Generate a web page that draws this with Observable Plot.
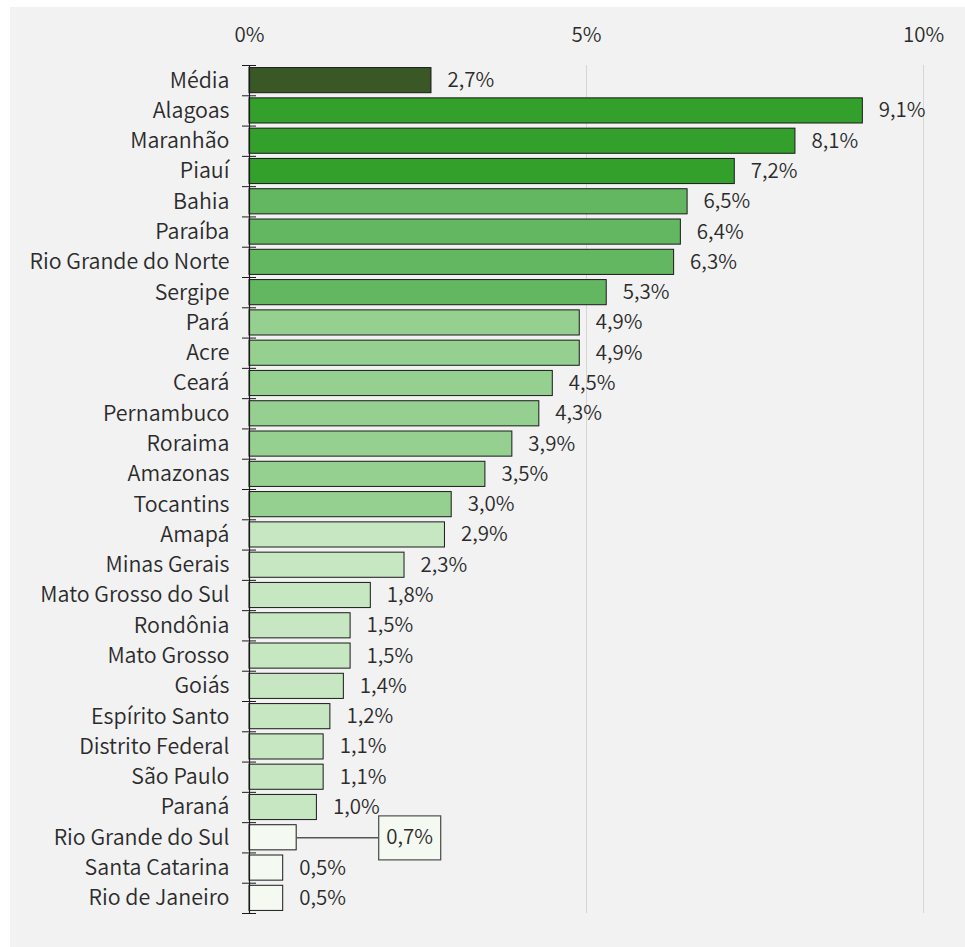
<!DOCTYPE html>
<html>
<head>
<meta charset="utf-8">
<script src="https://cdn.jsdelivr.net/npm/d3@7"></script>
<script src="https://cdn.jsdelivr.net/npm/@observablehq/plot@0.6"></script>
<style>
  html, body { margin: 0; padding: 0; background: #ffffff; }
  #panel { position: absolute; left: 10px; top: 7px; width: 955px; height: 940px; background: #f2f2f2; }
  #panel svg { background: transparent; font-family: "Noto Sans CJK JP", "Noto Sans", sans-serif; font-weight: 350; }
</style>
</head>
<body>
<div id="panel"></div>
<script>
const states = ["Média","Alagoas","Maranhão","Piauí","Bahia","Paraíba","Rio Grande do Norte","Sergipe","Pará","Acre","Ceará","Pernambuco","Roraima","Amazonas","Tocantins","Amapá","Minas Gerais","Mato Grosso do Sul","Rondônia","Mato Grosso","Goiás","Espírito Santo","Distrito Federal","São Paulo","Paraná","Rio Grande do Sul","Santa Catarina","Rio de Janeiro"];
const values = [2.7,9.1,8.1,7.2,6.5,6.4,6.3,5.3,4.9,4.9,4.5,4.3,3.9,3.5,3.0,2.9,2.3,1.8,1.5,1.5,1.4,1.2,1.1,1.1,1.0,0.7,0.5,0.5];
const groups = ["media","g1","g1","g1","g2","g2","g2","g2","g3","g3","g3","g3","g3","g3","g3","g4","g4","g4","g4","g4","g4","g4","g4","g4","g4","g5","g5","g5"];
const groupNames = ["media","g1","g2","g3","g4","g5"];
const groupColors = ["#3a5726","#33a02c","#63b760","#95d091","#c7e6c2","#f4f9f1"];
const xTicks = [0,5,10];
const highlighted = "Rio Grande do Sul";

const data = states.map((s, i) => ({state: s, value: values[i], group: groups[i], label: values[i].toFixed(1).replace(".", ",") + "%"}));

const W = 955, H = 940;
const mL = 239, mR = 42, mT = 58, mB = 34;
const step = (H - mT - mB) / states.length;
const pxPerUnit = (W - mL - mR) / 10;

const boxSymbol = { draw(ctx) { ctx.rect(-31, -22, 62, 44); } };

const chart = Plot.plot({
  width: W, height: H,
  marginLeft: mL, marginRight: mR, marginTop: mT, marginBottom: mB,
  style: { fontSize: "20px", color: "#2b2b2b", background: "transparent" },
  x: { domain: [0, 10], axis: null },
  y: { domain: states, padding: 0.17, paddingOuter: 0.085, round: false, axis: null },
  color: { domain: groupNames, range: groupColors },
  marks: [
    Plot.gridX(xTicks.filter(d => d > 0), { stroke: "#d6d6d6", strokeOpacity: 1, strokeWidth: 1 }),
    Plot.axisX(xTicks, { anchor: "top", label: null, tickSize: 0, tickPadding: 24, tickFormat: d => d + "%", fontSize: 20.5, fill: "#2b2b2b" }),
    Plot.axisY({ anchor: "left", label: null, tickSize: 0, tickPadding: 20, fontSize: 21.4, fill: "#2b2b2b" }),
    Plot.barX(data, { x: "value", y: "state", fill: "group", stroke: "#1a1a1a", strokeWidth: 1 }),
    Plot.ruleX([0], { stroke: "#1a1a1a", strokeWidth: 1.2 }),
    Plot.ruleY(states, { y: d => d, x1: -7 / pxPerUnit, x2: 7 / pxPerUnit, dy: -step / 2, stroke: "#1a1a1a", strokeWidth: 1 }),
    Plot.ruleY(states.slice(-1), { y: d => d, x1: -7 / pxPerUnit, x2: 7 / pxPerUnit, dy: step / 2, stroke: "#1a1a1a", strokeWidth: 1 }),
    Plot.text(data.filter(d => d.state !== highlighted), { x: "value", y: "state", text: "label", textAnchor: "start", dx: 16, fontSize: 20.5, fill: "#2b2b2b" }),
    Plot.ruleY(data.filter(d => d.state === highlighted), { y: "state", x1: "value", x2: d => d.value + 82 / pxPerUnit, stroke: "#555", strokeWidth: 1.5 }),
    Plot.dot(data.filter(d => d.state === highlighted), { x: "value", y: "state", dx: 113, symbol: boxSymbol, r: 10, fill: "#f4f9f1", stroke: "#555", strokeWidth: 1.3 }),
    Plot.text(data.filter(d => d.state === highlighted), { x: "value", y: "state", text: "label", textAnchor: "middle", dx: 113, fontSize: 20.5, fill: "#2b2b2b" })
  ]
});
document.getElementById("panel").appendChild(chart);
</script>
</body>
</html>
